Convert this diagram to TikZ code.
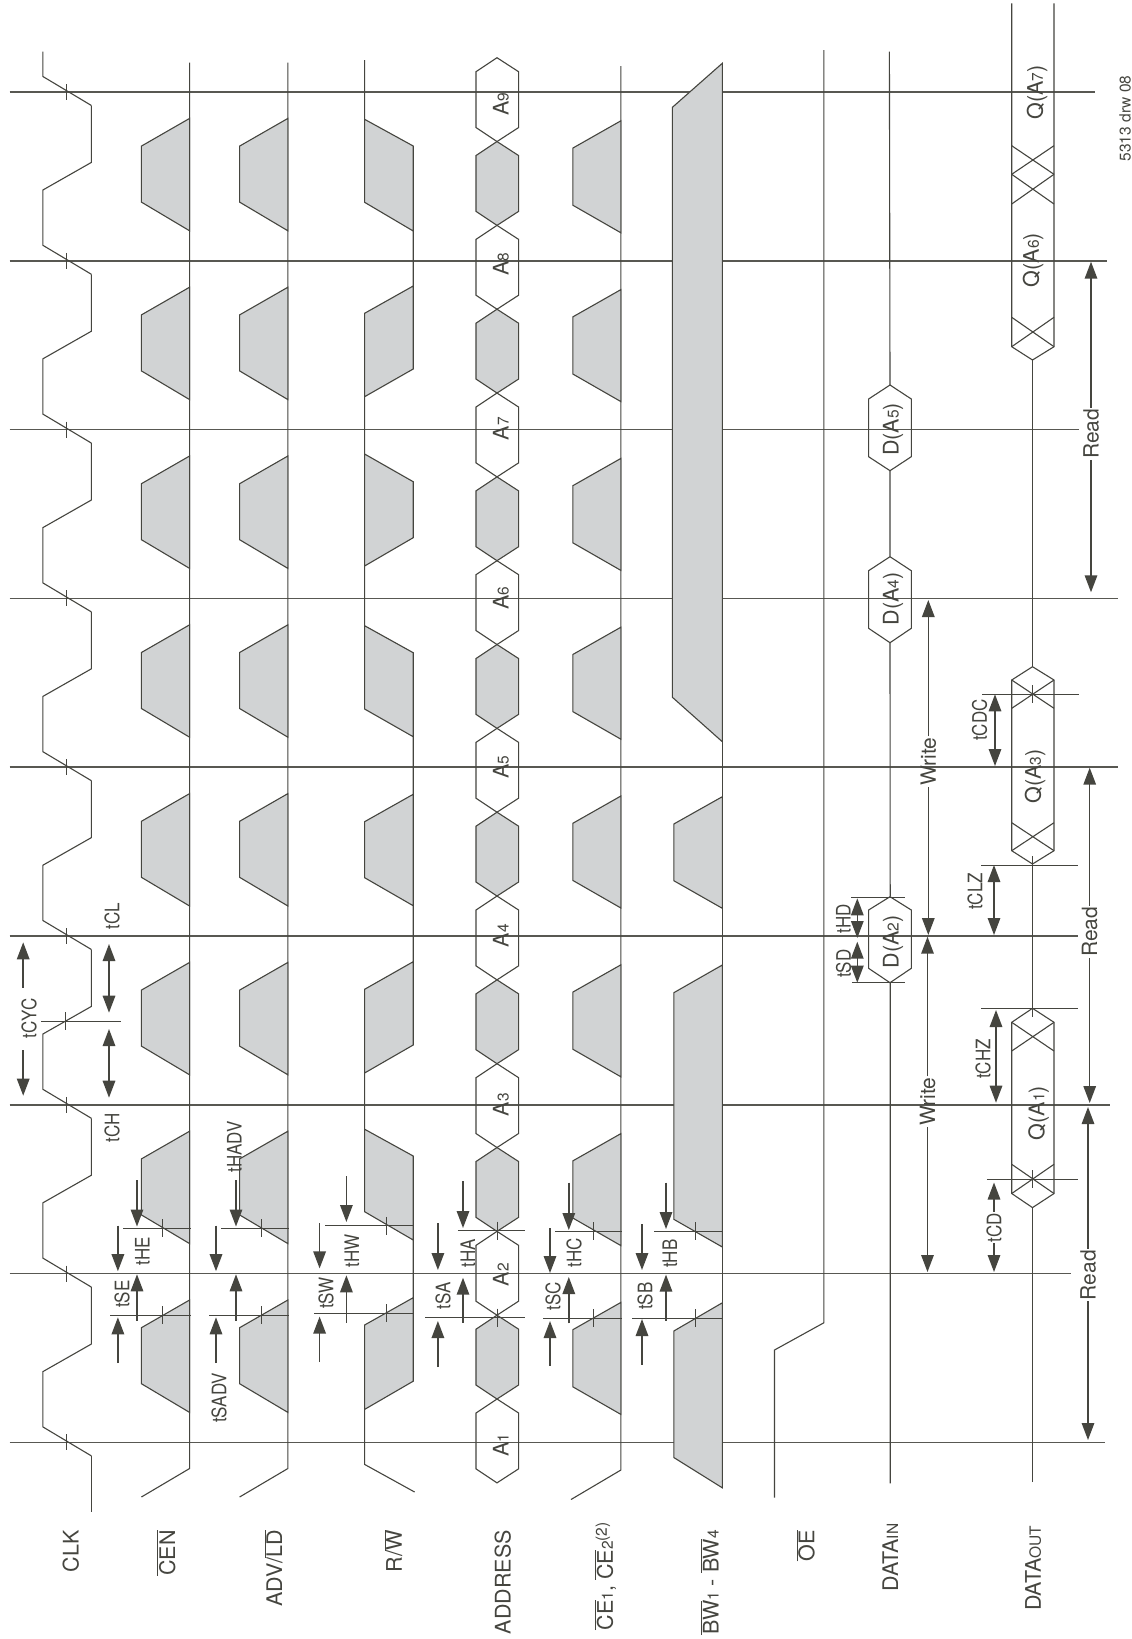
\documentclass[tikz,border=0pt]{standalone}
\usepackage{fontspec}
\usepackage{graphicx}
\setmainfont{TeX Gyre Heros}
\usetikzlibrary{arrows.meta}
\definecolor{linec}{HTML}{45453F}
\definecolor{blockc}{HTML}{D1D3D4}
\newcommand{\subn}[1]{{\fontsize{15.5}{16}\selectfont #1}}
\newcommand{\ovl}[1]{$\overline{\mbox{#1}}$}
\newcommand{\timtxt}[1]{\scalebox{.85}[1]{#1}}
\tikzset{
sig/.style={draw=linec,line width=1.1pt,line join=miter},
clkline/.style={draw=linec!90,line width=1.5pt},
grayblk/.style={sig,fill=blockc},
reftick/.style={draw=linec,line width=1pt},
dimarr/.style={draw=linec,line width=1.5pt,-{Triangle[length=17pt,width=12.5pt]}},
dimboth/.style={draw=linec,line width=1.5pt,{Triangle[length=17pt,width=12.5pt]}-{Triangle[length=17pt,width=12.5pt]}},
siglab/.style={rotate=90,inner sep=0pt,text=linec,font=\fontsize{21.5}{24}\selectfont},
timlab/.style={rotate=90,inner sep=0pt,text=linec,font=\fontsize{20}{22}\selectfont},
spanlab/.style={siglab,inner sep=1pt,font=\fontsize{21}{24}\selectfont}
}
\begin{document}
\begin{tikzpicture}[x=1pt,y=-1pt]
\path[use as bounding box,fill=white](0,0)rectangle(1132,1639);
\foreach \k/\r in {0/1105,1/1071,2/1110,3/1078,4/1118,5/1117.7,6/1079,7/1107,8/1094.5}
  \draw[clkline](9.6,1442.4-168.8*\k)--(\r,1442.4-168.8*\k);
\foreach \k [evaluate=\k as \y using 1442.4-168.8*\k] in {0,...,7}
  \draw[sig](91.4,\y+13.5)--(42.9,\y-15.5)--(42.9,\y-70.8)--(91.4,\y-98.4)--(91.4,\y-155.3);
\draw[sig](91.4,1511.5)--(91.4,1455.9);
\draw[sig](91.4,105.5)--(42.9,76.5)--(42.9,51.7);
\foreach \k [evaluate=\k as \y using 1442.4-168.8*\k] in {0,...,8}
  \draw[reftick](66.4,\y-8)--(66.4,\y+8);
\foreach \xa/\xb in {141.4/189.6,239.6/287.9}{
  \draw[sig](\xa,1497)--(\xb,1468.5)--(\xb,62.7);
  \foreach \k [evaluate=\k as \y using 1442.4-168.8*\k] in {0,...,7}
    \draw[grayblk](\xb,\y-30)--(\xa,\y-58.7)--(\xa,\y-114.7)--(\xb,\y-142.4)--cycle;
}
\draw[sig](414.6,1492)--(364.6,1464.4)--(364.6,1409.4)(413.2,1297.7)--(413.2,1240)
  (364.6,1129.2)--(364.6,1073)(413.2,961.7)--(413.2,736.7)
  (364.6,625.7)--(364.6,396.7)(413.2,286)--(413.2,231)(364.6,119.3)--(364.6,60);
\draw[grayblk](364.6,1409.4)--(413.2,1381.2)--(413.2,1297.7)--(364.6,1325)--cycle;
\draw[grayblk](413.2,1240)--(364.6,1211.7)--(364.6,1129.2)--(413.2,1156)--cycle;
\draw[grayblk](364.6,1073)--(413.2,1045)--(413.2,961.7)--(364.6,989.3)--cycle;
\draw[grayblk](413.2,905.7)--(364.6,877.7)--(364.6,821.7)--(413.2,794.3)--cycle;
\draw[grayblk](413.2,736.7)--(364.6,709)--(364.6,625.7)--(413.2,652.7)--cycle;
\draw[grayblk](364.6,566)--(413.2,537.7)--(413.2,481.7)--(364.6,454)--cycle;
\draw[grayblk](364.6,396.7)--(413.2,369)--(413.2,286)--(364.6,313.3)--cycle;
\draw[grayblk](413.2,231)--(364.6,202.3)--(364.6,119.3)--(413.2,146)--cycle;
\foreach \j in {-1,1,...,15}
  \draw[sig](497,1399-83.83*\j)--(518.6,1385-83.83*\j)--(518.6,1329.17-83.83*\j)--(497,1315.17-83.83*\j)--(476,1329.17-83.83*\j)--(476,1385-83.83*\j)--cycle;
\foreach \j in {0,2,...,14}
  \draw[grayblk](497,1399-83.83*\j)--(518.6,1385-83.83*\j)--(518.6,1329.17-83.83*\j)--(497,1315.17-83.83*\j)--(476,1329.17-83.83*\j)--(476,1385-83.83*\j)--cycle;
\draw[sig](571,1499.5)--(620.9,1470)--(620.9,66);
\foreach \k [evaluate=\k as \y using 1442.4-168.8*\k] in {0,...,7}
  \draw[grayblk](620.9,\y-28)--(572.8,\y-55.6)--(572.8,\y-112.7)--(620.9,\y-140)--cycle;
\draw[sig](722.3,1487.8)--(722.3,63.3);
\draw[grayblk](722.3,63.3)--(672.4,107.3)--(672.4,697.3)--(722.3,741.7)--cycle;
\draw[grayblk](722.3,796.7)--(673.8,824)--(673.8,880.7)--(722.3,908.3)--cycle;
\draw[grayblk](722.3,965)--(673.8,992.7)--(673.8,1219.3)--(722.3,1247)--cycle;
\draw[grayblk](722.3,1302.8)--(673.8,1331)--(673.8,1457.5)--(722.3,1487.8)--cycle;
\draw[sig](774.5,1497.7)--(774.5,1350)--(823.8,1322.8)--(823.8,50);
\draw[sig](890.2,1483.3)--(890.2,982.7)(890.2,896.7)--(890,642.7)(890,556.7)--(890,470.7)(890,385)--(889.4,51.7);
\foreach \a/\b/\c/\d in {982.7/968.3/910/896.7,642.7/628.3/570.7/556.7,470.7/456.7/399/385}
  \draw[sig](890,\a)--(911.3,\b)--(911.3,\c)--(890,\d)--(868.6,\c)--(868.6,\b)--cycle;
\draw[sig](1032.5,1482)--(1032.5,1207.6)(1032.5,1008.3)--(1032.5,864)(1032.5,666.7)--(1032.5,360);
\foreach \a/\b/\c/\d in {1207.6/1193.5/1022.3/1008.3,864/850.7/680/666.7}
  \draw[sig](1032.5,\a)--(1054,\b)--(1054,\c)--(1032.5,\d)--(1011.7,\c)--(1011.7,\b)--cycle;
\draw[sig](1054,3.3)--(1054,346.7)--(1032.5,360)--(1011.7,346.7)--(1011.7,3.3);
\foreach \a/\b in {1193.5/1164.3,1051/1022.3,850.7/822.7,708.3/680,346.7/317.3,174.3/145.7,204/174.3}
  \draw[sig](1011.7,\a)--(1054,\b)(1054,\a)--(1011.7,\b);
\foreach \xa/\xb/\y/\t in {110/191/1315/162.5,123/191/1228.2/162.5,209/289.3/1315/261,221.4/289.3/1228.2/261,
  314.3/412.5/1313/386,325/412.5/1225.8/386,425/525/1317.6/497,457.9/525/1230.6/497,
  543/622/1318/593.6,555.4/622/1231/593.6,632/723/1318/695.7,654/722/1231/695.7,
  986.8/1078/1179/1032.8,982/1078.8/694.3/1032.5,981/1078/1008.3/1032.5,981.4/1078/865/1032.5,41/121.4/1021/65.7}{
  \draw[reftick](\xa,\y)--(\xb,\y);
  \draw[reftick](\t,\y-9)--(\t,\y+9);
}
\draw[reftick](851,897.3)--(904.8,897.3);
\draw[reftick](851.9,982.7)--(904.8,982.7);
\foreach \x/\a/\b/\c/\d in {117.9/1225.5/1271.2/1363/1317.3,137/1180/1226.5/1320.7/1274.3,216/1225.5/1271.2/1363/1317.3,
  236/1180/1226.5/1320.7/1274.3,319.6/1223/1268.4/1362/1316.6,346.4/1176.3/1222/1322.8/1275.3,
  437.9/1223/1270/1367/1321,463/1181/1228/1322.8/1277.7,550/1228/1273/1365.7/1321,
  568.8/1182.5/1230/1323.4/1277,642/1224.4/1270/1364.7/1319,666/1182.5/1229/1320.7/1274.6,
  23.2/1050/1095.7/987.7/942.3}{
  \draw[dimarr](\x,\a)--(\x,\b);
  \draw[dimarr](\x,\c)--(\x,\d);
}
\foreach \x/\a/\b in {109/1029/1097.7,109/944/1012.7,996/1010/1102.7,994/865/935,995/694.3/766,857.3/898.3/938,857.3/941.7/982.7}
  \draw[dimboth](\x,\a)--(\x,\b);
\foreach \n/\x/\y/\t/\b in {rda/1088/1275/1107/1440,rdb/1089.7/931.7/767.7/1103,rdc/1091/433.7/261.7/592.3}{
  \node[spanlab](\n)at(\x,\y){Read};
  \coordinate(\n top)at(\x,\t);
  \coordinate(\n bot)at(\x,\b);
  \draw[dimarr](\n.east)--(\n top);
  \draw[dimarr](\n.west)--(\n bot);
}
\foreach \n/\x/\y/\t/\b in {wra/927.5/1101.7/936.7/1272,wrb/928.3/761.7/600/935}{
  \node[spanlab](\n)at(\x,\y){Write};
  \coordinate(\n top)at(\x,\t);
  \coordinate(\n bot)at(\x,\b);
  \draw[dimarr](\n.east)--(\n top);
  \draw[dimarr](\n.west)--(\n bot);
}
\node[timlab,inner sep=1pt](tcd)at(994,1227.5){\timtxt{tCD}};
\coordinate(tcdtop)at(994,1182.5);
\coordinate(tcdbot)at(994,1272);
\draw[dimarr](tcd.east)--(tcdtop);
\draw[dimarr](tcd.west)--(tcdbot);
\foreach \n/\x/\y/\t in {tcyc/29/1018.3/tCYC,tch/112/1128/tCH,tcl/112/916/tCL,tse/122/1294/tSE,the/142.5/1251/tHE,
  tsadv/219/1398/tSADV,thadv/234.4/1146.8/tHADV,tsw/326/1293/tSW,thw/352/1250.6/tHW,tsa/443/1296/tSA,tha/468/1253/tHA,
  tsc/553/1296/tSC,thc/574/1253/tHC,tsb/645/1296/tSB,thb/670/1253.7/tHB,tsd/843.5/963.7/tSD,thd/843.5/919/tHD,
  tclz/975/891.3/tCLZ,tchz/983/1059/tCHZ,tcdc/979.5/720/tCDC}
  \node[timlab](\n)at(\x,\y){\timtxt{\t}};
\foreach \n/\y in {1/1445,2/1274.6,3/1104.7,4/935.7,5/767,6/598,7/428.7,8/264,9/104}
  \node[siglab,anchor=base](a\n)at(508.5,\y){A\subn{\n}};
\node[siglab](qa)at(1038.5,1113){Q(A\subn{1})};
\node[siglab](qc)at(1035,776.7){Q(A\subn{3})};
\node[siglab](qf)at(1033,260){Q(A\subn{6})};
\node[siglab](qg)at(1037,92.5){Q(A\subn{7})};
\node[siglab](db)at(893,942){D(A\subn{2})};
\node[siglab](dd)at(893,599){D(A\subn{4})};
\node[siglab](de)at(893,429.5){D(A\subn{5})};
\node[siglab,anchor=base east](clklab)at(78.6,1530){CLK};
\node[siglab,anchor=base east](cenlab)at(175,1530){\ovl{CEN}};
\node[siglab,anchor=base east](advlab)at(282,1530){ADV/\ovl{LD}};
\node[siglab,anchor=base east](rwlab)at(401.8,1530){R/\ovl{W}};
\node[siglab,anchor=base east](addrlab)at(510.7,1530){ADDRESS};
\node[siglab,anchor=base east](celab)at(612.9,1522){\ovl{CE}\subn{1}, \ovl{CE}\subn{2}\raisebox{6pt}{\subn{(2)}}};
\node[siglab,anchor=base east](bwlab)at(718.7,1530){\ovl{BW}\subn{1} - \ovl{BW}\subn{4}};
\node[siglab,anchor=base east](oelab)at(814.3,1530){\ovl{OE}};
\node[siglab,anchor=base east](dinlab)at(898,1523.5){DATA\subn{IN}};
\node[siglab,anchor=base east](doutlab)at(1040.8,1525.6){DATA\subn{OUT}};
\node[siglab,font=\fontsize{15.5}{17}\selectfont](drwlab)at(1125,118.5){5313 drw 08};
\end{tikzpicture}
\end{document}
